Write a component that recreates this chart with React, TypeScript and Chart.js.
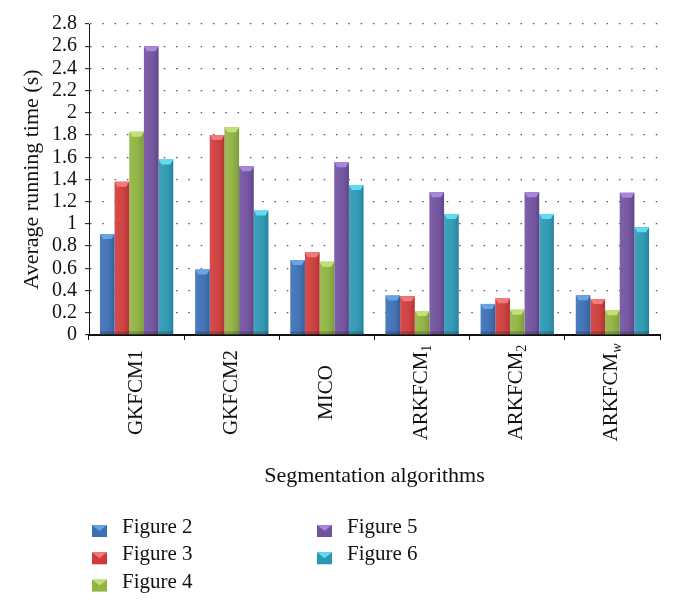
import React, { useEffect, useRef } from "react";
import { Chart, registerables } from "chart.js";

Chart.register(...registerables);

// ---- data ----
const categories = ["GKFCM1", "GKFCM2", "MICO", "ARKFCM", "ARKFCM", "ARKFCM"];
const categorySubscripts = ["", "", "", "1", "2", "w"];
const seriesNames = ["Figure 2", "Figure 3", "Figure 4", "Figure 5", "Figure 6"];
const figure2 = [0.91, 0.59, 0.675, 0.355, 0.28, 0.357];
const figure3 = [1.38, 1.8, 0.745, 0.35, 0.33, 0.324];
const figure4 = [1.83, 1.87, 0.66, 0.216, 0.228, 0.222];
const figure5 = [2.6, 1.52, 1.555, 1.285, 1.285, 1.28];
const figure6 = [1.58, 1.12, 1.35, 1.09, 1.09, 0.97];
const yMin = 0;
const yMax = 2.8;
const yStep = 0.2;
const yTitle = "Average running time (s)";
const xTitle = "Segmentation algorithms";

const seriesValues = [figure2, figure3, figure4, figure5, figure6];
const seriesColors = ["#3b6fb6", "#d03a3a", "#8fb440", "#7050a0", "#2a98b4"];
const seriesLight = ["#6aa2e6", "#f27a7a", "#c4df78", "#a886dc", "#5fdcf2"];

const FONT = "'Liberation Serif', 'Times New Roman', serif";

const decorPlugin = {
  id: "decor",
  afterDatasetsDraw(chart: any) {
    const ctx = chart.ctx;
    chart.data.datasets.forEach((ds: any, di: number) => {
      const meta = chart.getDatasetMeta(di);
      meta.data.forEach((el: any) => {
        const { x, y, base, width } = el.getProps(["x", "y", "base", "width"], true);
        const l = x - width / 2;
        const r = x + width / 2;
        ctx.save();
        const g = ctx.createLinearGradient(l, 0, r, 0);
        g.addColorStop(0, "rgba(255,255,255,0.10)");
        g.addColorStop(0.35, "rgba(255,255,255,0.06)");
        g.addColorStop(1, "rgba(0,0,0,0.14)");
        ctx.fillStyle = g;
        ctx.fillRect(l, y, width, base - y);
        ctx.beginPath();
        ctx.moveTo(l, y);
        ctx.lineTo(r, y);
        ctx.lineTo(r - 3, y + 5);
        ctx.lineTo(l + 3, y + 5);
        ctx.closePath();
        ctx.fillStyle = seriesLight[di];
        ctx.fill();
        ctx.fillStyle = "rgba(0,0,0,0.18)";
        ctx.fillRect(l, base - 3, width, 3);
        ctx.restore();
      });
    });
  },
  afterDraw(chart: any) {
    const ctx = chart.ctx;
    const xs = chart.scales.x;
    const area = chart.chartArea;
    ctx.save();
    ctx.fillStyle = "#111";
    categories.forEach((name, i) => {
      const cx = xs.getPixelForValue(i);
      const sub = categorySubscripts[i];
      ctx.font = `21px ${FONT}`;
      const w1 = ctx.measureText(name).width;
      const subFont = sub === "w" ? `italic 14px ${FONT}` : `14px ${FONT}`;
      ctx.font = subFont;
      const w2 = sub ? ctx.measureText(sub).width : 0;
      const total = w1 + w2;
      ctx.save();
      ctx.translate(cx + 5, xs.top + 57.5);
      ctx.rotate(-Math.PI / 2);
      ctx.textAlign = "left";
      ctx.textBaseline = "alphabetic";
      ctx.font = `21px ${FONT}`;
      ctx.fillText(name, -total / 2, 0);
      if (sub) {
        ctx.font = subFont;
        ctx.fillText(sub, -total / 2 + w1, 4);
      }
      ctx.restore();
    });
    ctx.font = `22px ${FONT}`;
    ctx.textAlign = "center";
    ctx.textBaseline = "alphabetic";
    ctx.fillText(xTitle, (area.left + area.right) / 2, xs.top + 147);
    ctx.save();
    ctx.translate(38, (area.top + area.bottom) / 2);
    ctx.rotate(-Math.PI / 2);
    ctx.textAlign = "center";
    ctx.fillText(yTitle, 0, 0);
    ctx.restore();
    ctx.font = `21px ${FONT}`;
    ctx.textAlign = "left";
    seriesNames.forEach((name, i) => {
      const col = Math.floor(i / 3);
      const row = i % 3;
      const sx = col === 0 ? 92 : 317;
      const tx = col === 0 ? 122 : 347;
      const by = 533 + row * 27.3;
      const sy = by - 8;
      ctx.fillStyle = seriesColors[i];
      ctx.fillRect(sx, sy, 15, 12);
      ctx.beginPath();
      ctx.moveTo(sx, sy);
      ctx.lineTo(sx + 15, sy);
      ctx.lineTo(sx + 7.5, sy + 6);
      ctx.closePath();
      ctx.fillStyle = seriesLight[i];
      ctx.fill();
      ctx.fillStyle = "#111";
      ctx.fillText(name, tx, by);
    });
    ctx.restore();
  },
};

export default function App() {
  const ref = useRef<HTMLCanvasElement>(null);
  useEffect(() => {
    const canvas = ref.current;
    if (!canvas) return;
    const labels = categories.map((c, i) => c + categorySubscripts[i]);
    const chart = new Chart(canvas, {
      type: "bar",
      data: {
        labels,
        datasets: seriesNames.map((name, i) => ({
          label: name,
          data: seriesValues[i],
          backgroundColor: seriesColors[i],
          borderWidth: 0,
          categoryPercentage: 0.77,
          barPercentage: 1,
        })),
      },
      options: {
        responsive: false,
        animation: false,
        devicePixelRatio: 1,
        layout: { padding: { top: 24, right: 15, left: 0, bottom: 0 } },
        plugins: {
          legend: { display: false },
          tooltip: { enabled: false },
          title: { display: false },
        },
        scales: {
          x: {
            offset: true,
            grid: {
              offset: true,
              drawOnChartArea: false,
              drawTicks: true,
              tickLength: 5,
              tickColor: "#111",
              tickWidth: 1,
            },
            border: { display: true, color: "#111", width: 2 },
            ticks: { display: false },
            afterFit: (scale: any) => {
              scale.height = 273;
            },
          },
          y: {
            min: yMin,
            max: yMax,
            ticks: {
              stepSize: yStep,
              autoSkip: false,
              maxTicksLimit: 50,
              color: "#111",
              padding: 8,
              font: { family: FONT, size: 20 },
              callback: (v: any) => String(Number(Number(v).toFixed(1))),
            },
            grid: {
              color: "#555",
              lineWidth: 1.3,
              drawTicks: true,
              tickLength: 4,
              tickColor: "#111",
              tickWidth: 1,
              tickBorderDash: [],
            },
            border: { display: true, color: "#111", width: 1, dash: [1.5, 10.8] },
            afterFit: (scale: any) => {
              scale.width = 89;
            },
          },
        },
      },
      plugins: [decorPlugin],
    });
    return () => chart.destroy();
  }, []);
  return (
    <canvas
      ref={ref}
      width={675}
      height={608}
      style={{ position: "fixed", left: 0, top: 0, width: 675, height: 608, display: "block", background: "#fff" }}
    />
  );
}
